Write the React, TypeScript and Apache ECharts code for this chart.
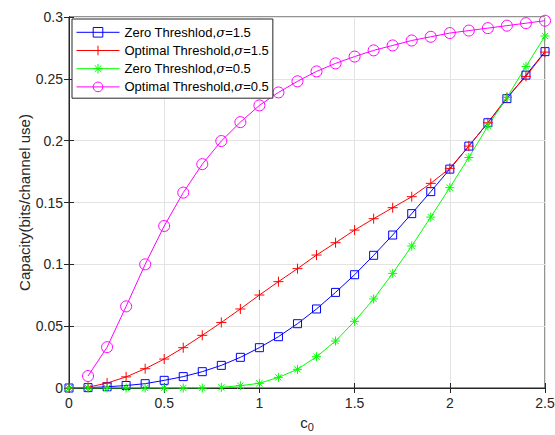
import React, { useEffect, useRef } from "react";
import * as echarts from "echarts";

const xValues = [0, 0.1, 0.2, 0.3, 0.4, 0.5, 0.6, 0.7, 0.8, 0.9, 1.0, 1.1, 1.2, 1.3, 1.4, 1.5, 1.6, 1.7, 1.8, 1.9, 2.0, 2.1, 2.2, 2.3, 2.4, 2.5];

const zeroS15 = [0, 0.0003, 0.001, 0.002, 0.0035, 0.0062, 0.0092, 0.0132, 0.0183, 0.0248, 0.0326, 0.0415, 0.052, 0.0639, 0.0773, 0.0916, 0.1073, 0.1237, 0.141, 0.1588, 0.177, 0.1956, 0.2145, 0.234, 0.253, 0.272];
const optS15 = [0, 0.0006, 0.004, 0.009, 0.0156, 0.0234, 0.0326, 0.0426, 0.053, 0.0639, 0.0752, 0.086, 0.0965, 0.1075, 0.1175, 0.1277, 0.1369, 0.1458, 0.1547, 0.1655, 0.1776, 0.1956, 0.2145, 0.235, 0.252, 0.2716];
const zeroS05 = [0, 0, 0, 0, 0, 0, 0, 0, 0.0005, 0.0019, 0.0038, 0.0086, 0.0151, 0.0253, 0.038, 0.0539, 0.072, 0.0927, 0.1148, 0.1382, 0.162, 0.1864, 0.2118, 0.235, 0.26, 0.2846];
const optS05 = [null, 0.0097, 0.033, 0.066, 0.1, 0.131, 0.158, 0.181, 0.1997, 0.215, 0.2285, 0.239, 0.248, 0.256, 0.2625, 0.268, 0.273, 0.277, 0.281, 0.284, 0.287, 0.289, 0.291, 0.293, 0.295, 0.297];

const seriesNames = ["Zero Threshlod,σ=1.5", "Optimal Threshold,σ=1.5", "Zero Threshlod,σ=0.5", "Optimal Threshold,σ=0.5"];
const yTicks = [0, 0.05, 0.1, 0.15, 0.2, 0.25, 0.3];

const FONT = "'Liberation Sans', Arial, sans-serif";
const TXT = "#262626";

const plusPath = "path://M5,0L5,10M0,5L10,5";
const starPath = "path://M5,0L5,10M0,5L10,5M1.5,1.5L8.5,8.5M1.5,8.5L8.5,1.5";

function pairs(vals: (number | null)[]) {
  return xValues.map((x, i) => [x, vals[i]]).filter((p) => p[1] !== null);
}

export default function App() {
  const ref = useRef<HTMLDivElement>(null);
  useEffect(() => {
    if (!ref.current) return;
    const chart = echarts.init(ref.current, undefined, { renderer: "svg" });
    const mk = (name: string, data: (number | null)[], color: string, symbol: string, size: number) => ({
      name,
      type: "line",
      data: pairs(data),
      symbol,
      symbolSize: size,
      showAllSymbol: true,
      lineStyle: { color, width: 1 },
      itemStyle: { color: "none", borderColor: color, borderWidth: 1 },
      emphasis: { disabled: true },
    });
    chart.setOption({
      animation: false,
      textStyle: { fontFamily: FONT },
      grid: {
        left: 69,
        right: 10,
        top: 17,
        bottom: 47,
        outerBoundsMode: "none",
        containLabel: false,
        show: true,
        borderColor: TXT,
        borderWidth: 1,
        backgroundColor: "transparent",
      },
      legend: {
        orient: "vertical",
        left: 72,
        top: 19,
        itemWidth: 43,
        itemHeight: 12,
        itemGap: 3.6,
        padding: [6, 4, 4, 4],
        borderColor: TXT,
        borderWidth: 1,
        backgroundColor: "#fff",
        data: seriesNames,
        lineStyle: { width: 1 },
        itemStyle: { borderWidth: 1 },
        textStyle: {
          fontFamily: FONT,
          fontSize: 13,
          lineHeight: 14,
          color: "#000",
          rich: { i: { fontStyle: "italic", fontFamily: "'DejaVu Serif', serif", fontSize: 13, lineHeight: 14, color: "#000" } },
        },
        formatter: (n: string) => n.replace("σ", "{i|σ}"),
      },
      xAxis: [
        {
          type: "value",
          min: 0,
          max: 2.5,
          interval: 0.5,
          name: "c{s|0}",
          nameLocation: "middle",
          nameGap: 23,
          nameTextStyle: { fontFamily: FONT, fontSize: 15, color: TXT, rich: { s: { fontSize: 11, verticalAlign: "bottom", padding: [10, 0, 0, 0], color: TXT } } },
          axisLine: { show: true, lineStyle: { color: TXT } },
          axisTick: { show: true, inside: true, length: 5, lineStyle: { color: TXT } },
          axisLabel: { color: TXT, fontSize: 14, margin: 8, formatter: (v: number) => String(v) },
          splitLine: { show: true, lineStyle: { color: "#e3e3e3", width: 1 } },
        },
        {
          type: "value",
          position: "top",
          min: 0,
          max: 2.5,
          interval: 0.5,
          axisLine: { show: true, lineStyle: { color: TXT } },
          axisTick: { show: true, inside: true, length: 5, lineStyle: { color: TXT } },
          axisLabel: { show: false },
          splitLine: { show: false },
        },
      ],
      yAxis: [
        {
          type: "value",
          min: 0,
          max: 0.3,
          interval: 0.05,
          name: "Capacity(bits/channel use)",
          nameLocation: "middle",
          nameGap: 37,
          nameMoveOverlap: false,
          nameTextStyle: { fontFamily: FONT, fontSize: 15, color: TXT },
          axisLine: { show: true, lineStyle: { color: TXT } },
          axisTick: { show: true, inside: true, length: 5, lineStyle: { color: TXT } },
          axisLabel: { color: TXT, fontSize: 14, margin: 6, formatter: (v: number) => String(yTicks.find((t) => Math.abs(t - v) < 1e-9) ?? v) },
          splitLine: { show: true, lineStyle: { color: "#e3e3e3", width: 1 } },
        },
        {
          type: "value",
          position: "right",
          min: 0,
          max: 0.3,
          interval: 0.05,
          axisLine: { show: true, lineStyle: { color: TXT } },
          axisTick: { show: true, inside: true, length: 5, lineStyle: { color: TXT } },
          axisLabel: { show: false },
          splitLine: { show: false },
        },
      ],
      series: [
        mk(seriesNames[0], zeroS15, "#0000ff", "rect", 8),
        mk(seriesNames[1], optS15, "#ff0000", plusPath, 10),
        mk(seriesNames[2], zeroS05, "#00ff00", starPath, 9),
        mk(seriesNames[3], optS05, "#ff00ff", "circle", 11),
      ],
    });
    return () => chart.dispose();
  }, []);
  return <div ref={ref} style={{ width: 555, height: 435, position: "absolute", left: 0, top: 0 }} />;
}
